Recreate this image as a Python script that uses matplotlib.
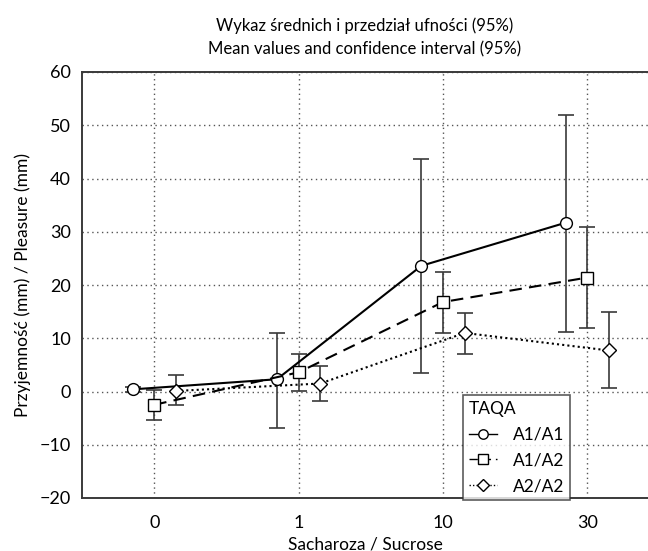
import matplotlib
matplotlib.use("Agg")
import matplotlib.pyplot as plt
import numpy as np

plt.rcParams['font.family'] = ['Lato', 'DejaVu Sans']

categories = ["0", "1", "10", "30"]
series_names = ["A1/A1", "A1/A2", "A2/A2"]

a1a1_mean = [0.4, 2.3, 23.6, 31.7]
a1a1_low = [0.0, -6.9, 3.4, 11.1]
a1a1_high = [0.8, 10.9, 43.6, 51.9]

a1a2_mean = [-2.5, 3.6, 16.8, 21.4]
a1a2_low = [-5.3, 0.1, 11.0, 12.0]
a1a2_high = [0.3, 7.0, 22.4, 30.8]

a2a2_mean = [0.1, 1.5, 11.0, 7.7]
a2a2_low = [-2.6, -1.8, 7.0, 0.6]
a2a2_high = [3.1, 4.7, 14.8, 14.9]

offsets = [-0.15, 0.0, 0.15]
markers = ["o", "s", "D"]
marker_sizes = [8.5, 8.5, 7.5]
linestyles = ["-", (0, (6, 3.5)), (0, (1, 1.5))]

fig = plt.figure(figsize=(6.48, 5.51), dpi=100)
ax = fig.add_axes([82/648, 1-498/551, 1-82/648, (498-72)/551])

x = np.arange(len(categories))
data = [(a1a1_mean, a1a1_low, a1a1_high),
        (a1a2_mean, a1a2_low, a1a2_high),
        (a2a2_mean, a2a2_low, a2a2_high)]

handles = []
for (mean, low, high), off, mk, ms, ls, name in zip(data, offsets, markers, marker_sizes, linestyles, series_names):
    mean = np.array(mean); low = np.array(low); high = np.array(high)
    xs = x + off
    ax.errorbar(xs, mean, yerr=[mean - low, high - mean], fmt='none',
                ecolor='#3a3a3a', elinewidth=1.2, capsize=6, capthick=1.2, zorder=2)
    ax.plot(xs, mean, color='black', linestyle=ls, linewidth=1.5,
            marker=mk, markersize=ms, markerfacecolor='white',
            markeredgecolor='black', markeredgewidth=1.0, zorder=3)
    h, = ax.plot([], [], color='black', linestyle=ls, linewidth=1.0,
                 marker=mk, markersize=ms * 0.8, markerfacecolor='white',
                 markeredgecolor='black', markeredgewidth=1.0, label=name)
    handles.append(h)

ax.set_xlim(-0.5, 3.42)
ax.set_ylim(-20, 60)
ax.set_xticks(x)
ax.set_xticklabels(categories)
ax.set_yticks(np.arange(-20, 61, 10))
ax.set_yticklabels([("\u2212" + str(-v)) if v < 0 else str(v) for v in range(-20, 61, 10)])
ax.tick_params(length=0, labelsize=13, colors='black', pad=8)
ax.tick_params(axis='x', pad=12)
ax.grid(True, linestyle=(0, (1, 2.5)), color='#555555', linewidth=1.0)
ax.set_axisbelow(True)

for s in ['left', 'top', 'bottom']:
    ax.spines[s].set_color('#3a3a3a')
    ax.spines[s].set_linewidth(1.4)
ax.spines['right'].set_visible(False)

ax.set_xlabel("Sacharoza / Sucrose", fontsize=12.5, labelpad=4)
ax.set_ylabel("Przyjemność (mm) / Pleasure (mm)", fontsize=12.5, labelpad=6)
ax.set_title("Wykaz średnich i przedział ufności (95%)\nMean values and confidence interval (95%)",
             fontsize=12, linespacing=1.55, pad=13)

leg = ax.legend(handles=handles, title="TAQA", loc='lower left',
                bbox_to_anchor=((463-82)/566, -0.005),
                fontsize=12.5, title_fontsize=12.5, frameon=True, fancybox=False,
                handlelength=1.6, handletextpad=0.9, borderpad=0.35, labelspacing=0.55,
                borderaxespad=0)
leg._legend_box.align = "left"
leg.get_frame().set_edgecolor('#333333')
leg.get_frame().set_linewidth(1.2)

fig.savefig("out.png", dpi=100)
